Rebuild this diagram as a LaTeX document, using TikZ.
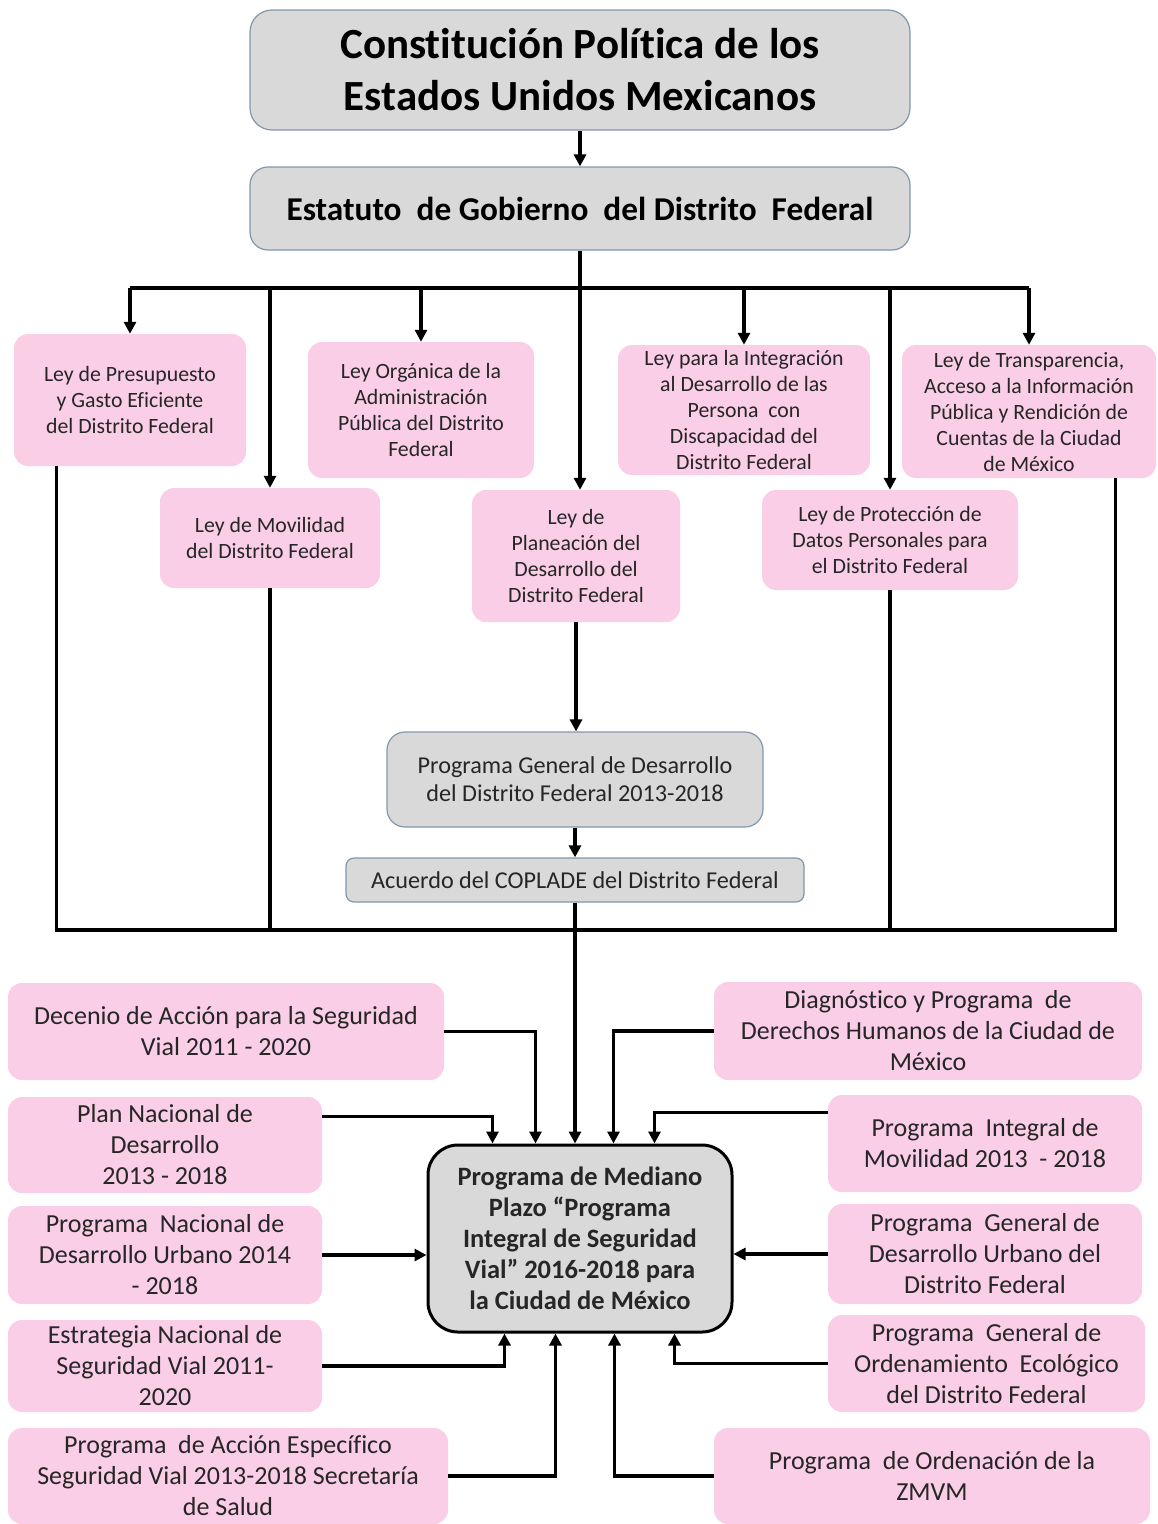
\documentclass[tikz,border=0pt]{standalone}
\usepackage{fontspec}
\setmainfont{Carlito}[RawFeature={-liga}]
\usetikzlibrary{arrows.meta,calc}
\definecolor{pinkf}{RGB}{249,206,230}
\definecolor{grayf}{RGB}{217,217,217}
\definecolor{grayb}{RGB}{130,150,172}
\definecolor{txt}{RGB}{38,38,38}
\begin{document}
\begin{tikzpicture}[x=1pt,y=-1pt,
  pbox/.style={fill=pinkf, draw=none, rounded corners=14pt, align=center, inner sep=0pt, text=txt},
  gbox/.style={fill=grayf, draw=grayb, line width=1.2pt, rounded corners=18pt, align=center, inner sep=0pt, text=txt},
  sm/.style={font=\fontsize{21.8}{26}\selectfont},
  lg/.style={font=\fontsize{26}{31}\selectfont},
  arr/.style={line width=3.2pt, -{Triangle[length=12pt,width=12pt]}},
  ln/.style={line width=3.2pt},
]
\useasboundingbox (0,0) rectangle (1158,1524);
\fill[white] (0,0) rectangle (1158,1524);

% top
\node[gbox, rounded corners=22pt, minimum width=660pt, minimum height=120pt, font=\fontsize{43}{52}\selectfont\bfseries, text=black] (const) at (580,70) {Constitución Política de los\\Estados Unidos Mexicanos};
\node[gbox, minimum width=660pt, minimum height=83pt, font=\fontsize{33.3}{38}\selectfont\bfseries, text=black] (est) at (580,208.5) {Estatuto~ de Gobierno~ del Distrito~ Federal};

% laws
\node[pbox, sm, minimum width=232pt, minimum height=132pt] (pres) at (130,400) {Ley de Presupuesto\\y Gasto Eficiente\\del Distrito Federal};
\node[pbox, sm, minimum width=226pt, minimum height=136pt] (org) at (421,410) {Ley Orgánica de la\\Administración\\Pública del Distrito\\Federal};
\node[pbox, sm, minimum width=252pt, minimum height=130pt] (integ) at (744,410) {Ley para la Integración\\al Desarrollo de las\\Persona~ con\\Discapacidad del\\Distrito Federal};
\node[pbox, sm, minimum width=254pt, minimum height=133pt] (trans) at (1029,411.5) {Ley de Transparencia,\\Acceso a la Información\\Pública y Rendición de\\Cuentas de la Ciudad\\de México};
\node[pbox, sm, minimum width=220pt, minimum height=100pt] (mov) at (270,538) {Ley de Movilidad\\del Distrito Federal};
\node[pbox, sm, minimum width=208pt, minimum height=132pt] (plan) at (576,556) {Ley de\\Planeación del\\Desarrollo del\\Distrito Federal};
\node[pbox, sm, minimum width=256pt, minimum height=100pt] (prot) at (890,540) {Ley de Protección de\\Datos Personales para\\el Distrito Federal};

% programa general & acuerdo
\node[gbox, minimum width=376pt, minimum height=95pt, font=\fontsize{24.2}{28}\selectfont] (pgd) at (575,779.5) {Programa General de Desarrollo\\del Distrito Federal 2013-2018};
\node[gbox, rounded corners=8pt, minimum width=458pt, minimum height=44pt, font=\fontsize{24.2}{28}\selectfont] (acu) at (575,880) {Acuerdo del COPLADE del Distrito Federal};

% central
\node[fill=grayf, draw=black, line width=3pt, rounded corners=30pt, align=center, inner sep=0pt, minimum width=304pt, minimum height=187pt, font=\fontsize{26.5}{31}\selectfont\bfseries, text=txt] (cen) at (580,1238.5) {Programa de Mediano\\Plazo “Programa\\Integral de Seguridad\\Vial” 2016-2018 para\\la Ciudad de México};

% left sources
\node[pbox, lg, minimum width=436pt, minimum height=97pt] (dec) at (226,1031.5) {Decenio de Acción para la Seguridad\\Vial 2011 - 2020};
\node[pbox, lg, minimum width=314pt, minimum height=96pt] (pln) at (165,1145) {Plan Nacional de\\Desarrollo\\2013 - 2018};
\node[pbox, lg, minimum width=314pt, minimum height=98pt] (pndu) at (165,1255) {Programa~ Nacional de\\Desarrollo Urbano 2014\\- 2018};
\node[pbox, lg, minimum width=314pt, minimum height=92pt] (estr) at (165,1366) {Estrategia Nacional de\\Seguridad Vial 2011-\\2020};
\node[pbox, lg, minimum width=440pt, minimum height=96pt] (acc) at (228,1476) {Programa~ de Acción Específico\\Seguridad Vial 2013-2018 Secretaría\\de Salud};

% right sources
\node[pbox, lg, minimum width=428pt, minimum height=98pt] (diag) at (928,1031) {Diagnóstico y Programa~ de\\Derechos Humanos de la Ciudad de\\México};
\node[pbox, lg, minimum width=314pt, minimum height=97pt] (pim) at (985,1143.5) {Programa~ Integral de\\Movilidad 2013~ - 2018};
\node[pbox, lg, minimum width=314pt, minimum height=100pt] (pgdu) at (985,1254) {Programa~ General de\\Desarrollo Urbano del\\Distrito Federal};
\node[pbox, lg, minimum width=317pt, minimum height=97pt] (poe) at (986.5,1363.5) {Programa~ General de\\Ordenamiento~ Ecológico\\del Distrito Federal};
\node[pbox, lg, minimum width=436pt, minimum height=96pt] (zmvm) at (932,1476) {Programa~ de Ordenación de la\\ZMVM};

% connectors top
\draw[arr] (const) -- (est);
\coordinate (bt) at (0,288);
\draw[ln] (pres.north |- bt) -- (trans.north |- bt);
\draw[ln] (est.south) -- (est.south |- bt);
\foreach \n in {pres,org,integ,trans,mov,prot}
  \draw[arr] (\n.north |- bt) -- (\n.north);
\draw[arr] (est.south) -- (est.south |- plan.north);

% bottom bus
\coordinate (bb) at (0,930);
\draw[ln] ([xshift=43pt]pres.south west) -- ([xshift=43pt]pres.south west |- bb) -- ([xshift=-41pt]trans.south east |- bb) -- ([xshift=-41pt]trans.south east);
\draw[ln] (mov.south) -- (mov.south |- bb);
\draw[ln] (prot.south) -- (prot.south |- bb);
\draw[arr] (plan.south) -- (plan.south |- pgd.north);
\draw[arr] (pgd.south) -- (acu.north);
\draw[arr] (acu.south) -- (acu.south |- cen.north);

% left arrows
\draw[arr] (dec.east) -| ([xshift=109pt]cen.north west);
\draw[arr] ([yshift=-20pt]pln.north east) -| ([xshift=66pt]cen.north west);
\draw[arr] (pndu.east) -- (pndu.east -| cen.west);
\draw[arr] (estr.east) -| ([xshift=78pt]cen.south west);
\draw[arr] (acc.east) -| ([xshift=129pt]cen.south west);

% right arrows
\draw[arr] (diag.west) -| ([xshift=-120pt]cen.north east);
\draw[arr] ([yshift=-18pt]pim.north west) -| ([xshift=-79pt]cen.north east);
\draw[arr] (pgdu.west) -- (pgdu.west -| cen.east);
\draw[arr] (poe.west) -| ([xshift=-59pt]cen.south east);
\draw[arr] (zmvm.west) -| ([xshift=-119pt]cen.south east);
\end{tikzpicture}
\end{document}
